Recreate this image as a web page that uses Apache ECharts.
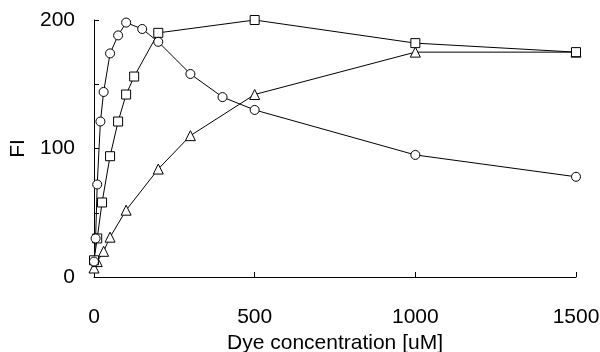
<!doctype html>
<html lang="en">
<head>
    <meta charset="UTF-8">
    <title>FI vs dye concentration</title>
    <style>
        html, body {margin: 0; padding: 0; background: #fff;}
        #chart {width: 600px; height: 352px;}
    </style>
</head>
<body>
<div id="chart"></div>
<script src="https://cdn.jsdelivr.net/npm/echarts@6/dist/echarts.min.js"></script>
<script>
    // circles
    var circleX = [0, 5, 10, 20, 30, 50, 75, 100, 150, 200, 300, 400, 500, 1000, 1500];
    var circleY = [12, 30, 72, 121, 144, 174, 188, 198, 193, 183, 158, 140, 130, 95, 78];
    // squares
    var squareX = [0, 10, 25, 50, 75, 100, 125, 200, 500, 1000, 1500];
    var squareY = [13, 30, 58, 94, 121, 142, 156, 190, 200, 182, 175];
    // triangles
    var triX = [0, 10, 30, 50, 100, 200, 300, 500, 1000, 1500];
    var triY = [7, 12, 20, 31, 52, 84, 110, 142, 175, 175];

    var xTicks = [0, 500, 1000, 1500];
    var yLabels = [0, 100, 200];

    function pairs(xs, ys) {
        return xs.map(function (x, i) { return [x, ys[i]]; });
    }

    function line(name, xs, ys, symbol, size) {
        return {
            name: name,
            type: 'line',
            data: pairs(xs, ys),
            symbol: symbol,
            symbolSize: size,
            showAllSymbol: true,
            lineStyle: {color: '#000', width: 1},
            itemStyle: {color: '#fff', borderColor: '#000', borderWidth: 1},
            animation: false
        };
    }

    var font = {fontFamily: '"Liberation Sans", Arial, sans-serif', fontSize: 21, color: '#000'};

    var chart = echarts.init(document.getElementById('chart'));
    chart.setOption({
        backgroundColor: '#fff',
        grid: {left: 94, right: 24, top: 20, bottom: 75, containLabel: false, outerBoundsMode: 'none'},
        xAxis: {
            type: 'value',
            min: 0, max: 1500, interval: 500,
            name: 'Dye concentration [uM]',
            nameLocation: 'middle',
            nameGap: 56,
            nameTextStyle: font,
            axisLine: {lineStyle: {color: '#000', width: 1}},
            axisTick: {inside: true, length: 5, lineStyle: {color: '#000'}},
            axisLabel: Object.assign({margin: 30, formatter: function (v) {
                return xTicks.indexOf(v) >= 0 ? v : '';
            }}, font),
            splitLine: {show: false}
        },
        yAxis: {
            type: 'value',
            min: 0, max: 200, interval: 50,
            name: 'FI',
            nameLocation: 'middle',
            nameGap: 63,
            nameTextStyle: font,
            axisLine: {show: true, lineStyle: {color: '#000', width: 1}},
            axisTick: {show: true, inside: true, length: 5, lineStyle: {color: '#000'}},
            axisLabel: Object.assign({margin: 19, formatter: function (v) {
                return yLabels.indexOf(v) >= 0 ? v : '';
            }}, font),
            splitLine: {show: false}
        },
        series: [
            line('triangle', triX, triY, 'triangle', 10),
            line('square', squareX, squareY, 'rect', 9),
            line('circle', circleX, circleY, 'circle', 9)
        ]
    });
</script>
</body>
</html>
